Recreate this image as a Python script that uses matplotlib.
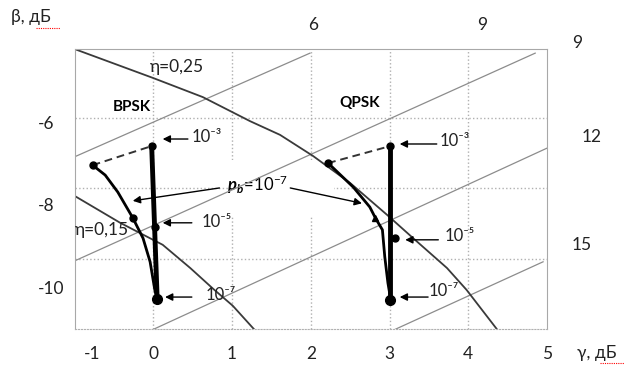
import matplotlib
matplotlib.use("Agg")
import matplotlib.pyplot as plt
from matplotlib.lines import Line2D
from matplotlib.patches import Rectangle

plt.rcParams['font.family'] = ['Lato', 'Open Sans', 'DejaVu Sans']
plt.rcParams['mathtext.fontset'] = 'custom'
plt.rcParams['mathtext.rm'] = 'Lato'
plt.rcParams['mathtext.bfit'] = 'Lato:italic:bold'

# eta curves
gamma_eta025 = [-1.0, 0.0, 0.63, 1.23, 1.61, 2.03, 2.5, 2.97, 3.3, 3.73, 3.98, 4.37]
beta_eta025 = [-4.24, -4.94, -5.40, -5.98, -6.31, -6.82, -7.47, -8.24, -8.80, -9.52, -10.05, -11.01]
gamma_eta015 = [-1.0, -0.42, 0.12, 0.47, 0.76, 1.01, 1.32]
beta_eta015 = [-7.78, -8.43, -8.96, -9.52, -10.02, -10.43, -11.08]

# diagonal iso-lines (start, end)
iso_gamma = [(-1.0, 1.99), (-1.0, 4.85), (0.0, 5.0), (3.07, 4.95)]
iso_beta = [(-6.84, -4.34), (-9.35, -4.34), (-11.0, -6.63), (-11.0, -9.37)]

# BPSK
bpsk_curve_gamma = [-0.77, -0.61, -0.45, -0.26, -0.13, -0.04, 0.02, 0.05]
bpsk_curve_beta = [-7.04, -7.28, -7.69, -8.31, -8.80, -9.37, -10.05, -10.27]
bpsk_vert_gamma = [-0.02, 0.02, 0.05]
bpsk_vert_beta = [-6.58, -8.53, -10.27]

# QPSK
qpsk_curve_gamma = [2.22, 2.54, 2.75, 2.82, 2.91, 2.94, 2.98, 3.01]
qpsk_curve_beta = [-6.99, -7.57, -8.05, -8.31, -8.60, -9.25, -9.88, -10.22]
qpsk_vert_gamma = [3.01, 3.07, 3.01]
qpsk_vert_beta = [-6.58, -8.80, -10.29]

pb_labels = ['10⁻³', '10⁻⁵', '10⁻⁷']

fig = plt.figure(figsize=(6.27, 3.69), dpi=100)
ax = fig.add_axes([74.5 / 627, 40 / 369, 472.5 / 627, 280 / 369])
ax.set_xlim(-1, 5)
ax.set_ylim(-10.99, -4.24)

# ticks / grid
ax.set_xticks([-0.78, 0, 1, 2, 3, 4, 5])
ax.set_xticklabels(['-1', '0', '1', '2', '3', '4', '5'])
ax.set_xticks([0, 1, 2, 3, 4], minor=True)
ax.xaxis.remove_overlapping_locs = False
ax.set_yticks([-6, -8, -10])
ax.set_yticklabels(['-6', '-8', '-10'])
ax.set_yticks([-5.9, -7.59, -9.3], minor=True)
ax.tick_params(which='both', length=0, labelsize=12.5, colors='#222222')
ax.tick_params(axis='x', pad=12.5)
ax.tick_params(axis='y', pad=26.5)
for lab in ax.get_yticklabels():
    lab.set_horizontalalignment('left')
ax.set_axisbelow(True)
ax.grid(which='minor', ls=':', color='#b0b0b0', lw=1)
for s in ['top', 'left', 'right']:
    ax.spines[s].set_color('#a8a8a8')
ax.spines['bottom'].set_color('#b0b0b0')
ax.spines['bottom'].set_linestyle(':')

# white box behind the p_b label
ax.add_patch(Rectangle((0.95, -8.27), 1.34, 1.35, facecolor='white', edgecolor='none', zorder=1))

# iso-lines
for g, b in zip(iso_gamma, iso_beta):
    ax.plot(g, b, color='#8c8c8c', lw=0.9, zorder=2)

ax.plot(gamma_eta025, beta_eta025, color='#3a3a3a', lw=1.3, zorder=2)
ax.plot(gamma_eta015, beta_eta015, color='#3a3a3a', lw=1.3, zorder=2)

for cg, cb, vg, vb, mk in [(bpsk_curve_gamma, bpsk_curve_beta, bpsk_vert_gamma, bpsk_vert_beta, 'o'),
                           (qpsk_curve_gamma, qpsk_curve_beta, qpsk_vert_gamma, qpsk_vert_beta, '^')]:
    ax.plot(cg, cb, color='black', lw=2, zorder=3)
    ax.plot([vg[0], vg[2]], [vb[0], vb[2]], color='black', lw=3.5, zorder=3)
    ax.plot([cg[0], vg[0]], [cb[0], vb[0]], color='#333333', lw=1.4, ls=(0, (4, 2.5)), zorder=3)
    ax.plot([cg[0]], [cb[0]], 'o', color='black', ms=5, zorder=4)
    ax.plot([cg[3]], [cb[3]], mk, color='black', ms=5, zorder=4)
    ax.plot(vg[:2], vb[:2], 'o', color='black', ms=5, ls='none', zorder=4)
    ax.plot([vg[2]], [vb[2]], 'o', color='black', ms=7, zorder=4)

arrow = dict(arrowstyle='-|>', color='black', lw=1, mutation_scale=11, shrinkA=0, shrinkB=0)

# arrows and error-probability labels
bpsk_heads = [(0.12, -6.41), (0.12, -8.43), (0.15, -10.22)]
bpsk_tails = [(0.44, -6.41), (0.49, -8.43), (0.49, -10.22)]
bpsk_text = [(0.49, -6.37), (0.62, -8.40), (0.66, -10.17)]
qpsk_heads = [(3.13, -6.53), (3.20, -8.84), (3.13, -10.22)]
qpsk_tails = [(3.60, -6.53), (3.62, -8.84), (3.49, -10.22)]
qpsk_text = [(3.64, -6.45), (3.70, -8.76), (3.50, -10.08)]
for heads, tails, texts in [(bpsk_heads, bpsk_tails, bpsk_text), (qpsk_heads, qpsk_tails, qpsk_text)]:
    for h, t, p, lab in zip(heads, tails, texts, pb_labels):
        ax.annotate('', xy=h, xytext=t, arrowprops=arrow, zorder=5)
        ax.text(p[0], p[1], lab, fontsize=12, ha='left', va='center', color='#222222', zorder=5)

ax.text(0.94, -7.52, r'$\mathbfit{p}_{\mathbfit{b}}\!=\!\mathrm{10^{-7}}$', fontsize=12,
        ha='left', va='center', zorder=1.5)
ax.annotate('', xy=(-0.26, -7.90), xytext=(0.84, -7.59), arrowprops=arrow, zorder=5)
ax.annotate('', xy=(2.65, -7.96), xytext=(1.74, -7.59), arrowprops=arrow, zorder=5)

ax.text(-0.27, -5.64, 'BPSK', fontsize=11, fontweight='bold', ha='center', va='center')
ax.text(2.625, -5.54, 'QPSK', fontsize=11, fontweight='bold', ha='center', va='center')
ax.text(-0.04, -4.68, 'η=0,25', fontsize=12.5, ha='left', va='center', color='#222222')
ax.text(-0.99, -8.60, 'η=0,15', fontsize=12.5, ha='left', va='center', color='#222222')

# outer labels (pixel positions in the figure)
W, H = 627, 369
outer = [('β, дБ', 11, 17, 'left'), ('γ, дБ', 577, 353, 'left'),
         ('6', 313, 25, 'center'), ('9', 482, 25, 'center'),
         ('9', 577, 43, 'center'), ('12', 592, 137, 'center'), ('15', 582, 245, 'center')]
for s, x, y, ha in outer:
    fig.text(x / W, 1 - y / H, s, fontsize=12.5, ha=ha, va='center', color='#222222')

# spell-check squiggles
for x0, x1, y in [(36, 60, 28), (600, 624, 363)]:
    fig.add_artist(Line2D([x0 / W, x1 / W], [1 - y / H, 1 - y / H], color='red', lw=0.8,
                          ls=(0, (1, 1))))

fig.savefig('out.png', dpi=100)
